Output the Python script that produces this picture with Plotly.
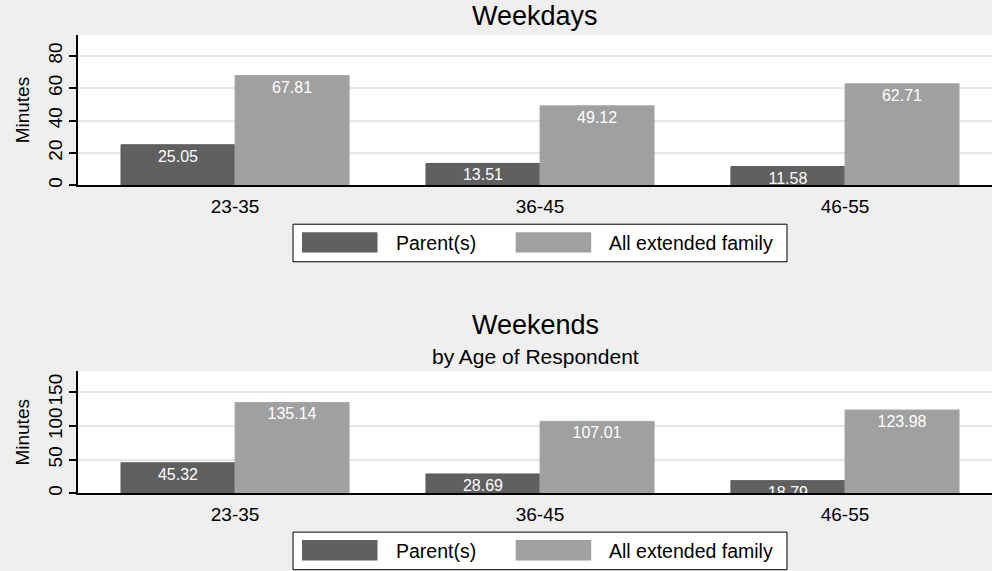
import plotly.graph_objects as go

# ---- data ----
age_groups = ["23-35", "36-45", "46-55"]
series_names = ["Parent(s)", "All extended family"]
weekday_parent = [25.05, 13.51, 11.58]
weekday_extended = [67.81, 49.12, 62.71]
weekend_parent = [45.32, 28.69, 18.79]
weekend_extended = [135.14, 107.01, 123.98]
weekday_ticks = [0, 20, 40, 60, 80]
weekend_ticks = [0, 50, 100, 150]

W, H = 992, 571
FONT = "Liberation Sans, Arial, sans-serif"
DARK = "#606060"
LIGHT = "#a0a0a0"
BG = "#efefef"


def py(p):
    return 1 - p / H


def px(p):
    return p / W


fig = go.Figure()

panels = [
    ("x", "y", weekday_parent, weekday_extended),
    ("x2", "y2", weekend_parent, weekend_extended),
]
for xa, ya, par, ext in panels:
    for name, vals, col, lcol in [
        (series_names[0], par, DARK, "#585858"),
        (series_names[1], ext, LIGHT, "#a8a8a8"),
    ]:
        fig.add_trace(go.Bar(
            x=age_groups, y=vals, name=name, xaxis=xa, yaxis=ya,
            marker=dict(color=col, line=dict(color=lcol, width=1)),
            texttemplate="%{y:.2f}", textposition="inside",
            insidetextanchor="end", textangle=0, constraintext="none",
            textfont=dict(color="white", size=16, family=FONT),
            cliponaxis=True, showlegend=False, hoverinfo="x+y+name",
        ))

xdom = [78 / W, 1.0]
common_x = dict(type="category", range=[-0.515, 2.482], showline=True,
                linecolor="black", linewidth=1.5, ticks="outside", ticklen=3,
                tickcolor="rgba(0,0,0,0)", showgrid=False,
                tickfont=dict(size=19, family=FONT, color="black"))
common_y = dict(showline=True, linecolor="black", linewidth=1.5,
                ticks="outside", ticklen=7, tickcolor="black", tickwidth=1.5,
                tickangle=-90, showgrid=True, gridcolor="#e6e6e6",
                gridwidth=2, zeroline=False,
                tickfont=dict(size=19, family=FONT, color="black"),
                title=dict(text="Minutes", font=dict(size=19, family=FONT, color="black"),
                           standoff=10))

fig.update_layout(
    width=W, height=H,
    margin=dict(l=0, r=0, t=0, b=0),
    paper_bgcolor=BG, plot_bgcolor="white",
    barmode="group", bargap=0.252, bargroupgap=0,
    font=dict(family=FONT, color="black"),
    xaxis=dict(domain=xdom, anchor="y", **common_x),
    yaxis=dict(domain=[py(186), py(35)], anchor="x", range=[0, 92.9],
               tickvals=weekday_ticks, **common_y),
    xaxis2=dict(domain=xdom, anchor="y2", **common_x),
    yaxis2=dict(domain=[py(495), py(372.7)], anchor="x2", range=[0, 181.4],
                tickvals=weekend_ticks, **common_y),
)

# titles
fig.add_annotation(text="Weekdays", xref="x domain", x=0.5, yref="paper", y=py(16),
                   yanchor="middle", showarrow=False,
                   font=dict(size=27, family=FONT, color="black"))
fig.add_annotation(text="Weekends", xref="x domain", x=0.5, yref="paper", y=py(326),
                   yanchor="middle", showarrow=False,
                   font=dict(size=27, family=FONT, color="black"))
fig.add_annotation(text="by Age of Respondent", xref="x domain", x=0.5, yref="paper",
                   y=py(358), yanchor="middle", showarrow=False,
                   font=dict(size=21, family=FONT, color="black"))

# legends (drawn as boxes)
for top in (225, 534):
    fig.add_shape(type="rect", xref="paper", yref="paper",
                  x0=px(293), x1=px(787), y0=py(top), y1=py(top + 37.7),
                  line=dict(color="black", width=1), fillcolor="white", layer="below")
    for i, (name, col, sx, tx) in enumerate([
        (series_names[0], DARK, 302, 394),
        (series_names[1], LIGHT, 515.7, 607),
    ]):
        fig.add_shape(type="rect", xref="paper", yref="paper",
                      x0=px(sx), x1=px(sx + 75.5), y0=py(top + 8), y1=py(top + 28.5),
                      line=dict(width=0), fillcolor=col)
        fig.add_annotation(text=name, xref="paper", yref="paper", x=px(tx),
                           y=py(top + 18.5), xanchor="left", yanchor="middle",
                           showarrow=False,
                           font=dict(size=19.5, family=FONT, color="black"))

fig.write_html("out.html", config={"displayModeBar": False},
               post_script="document.body.style.margin='0';document.body.style.overflow='hidden';")
